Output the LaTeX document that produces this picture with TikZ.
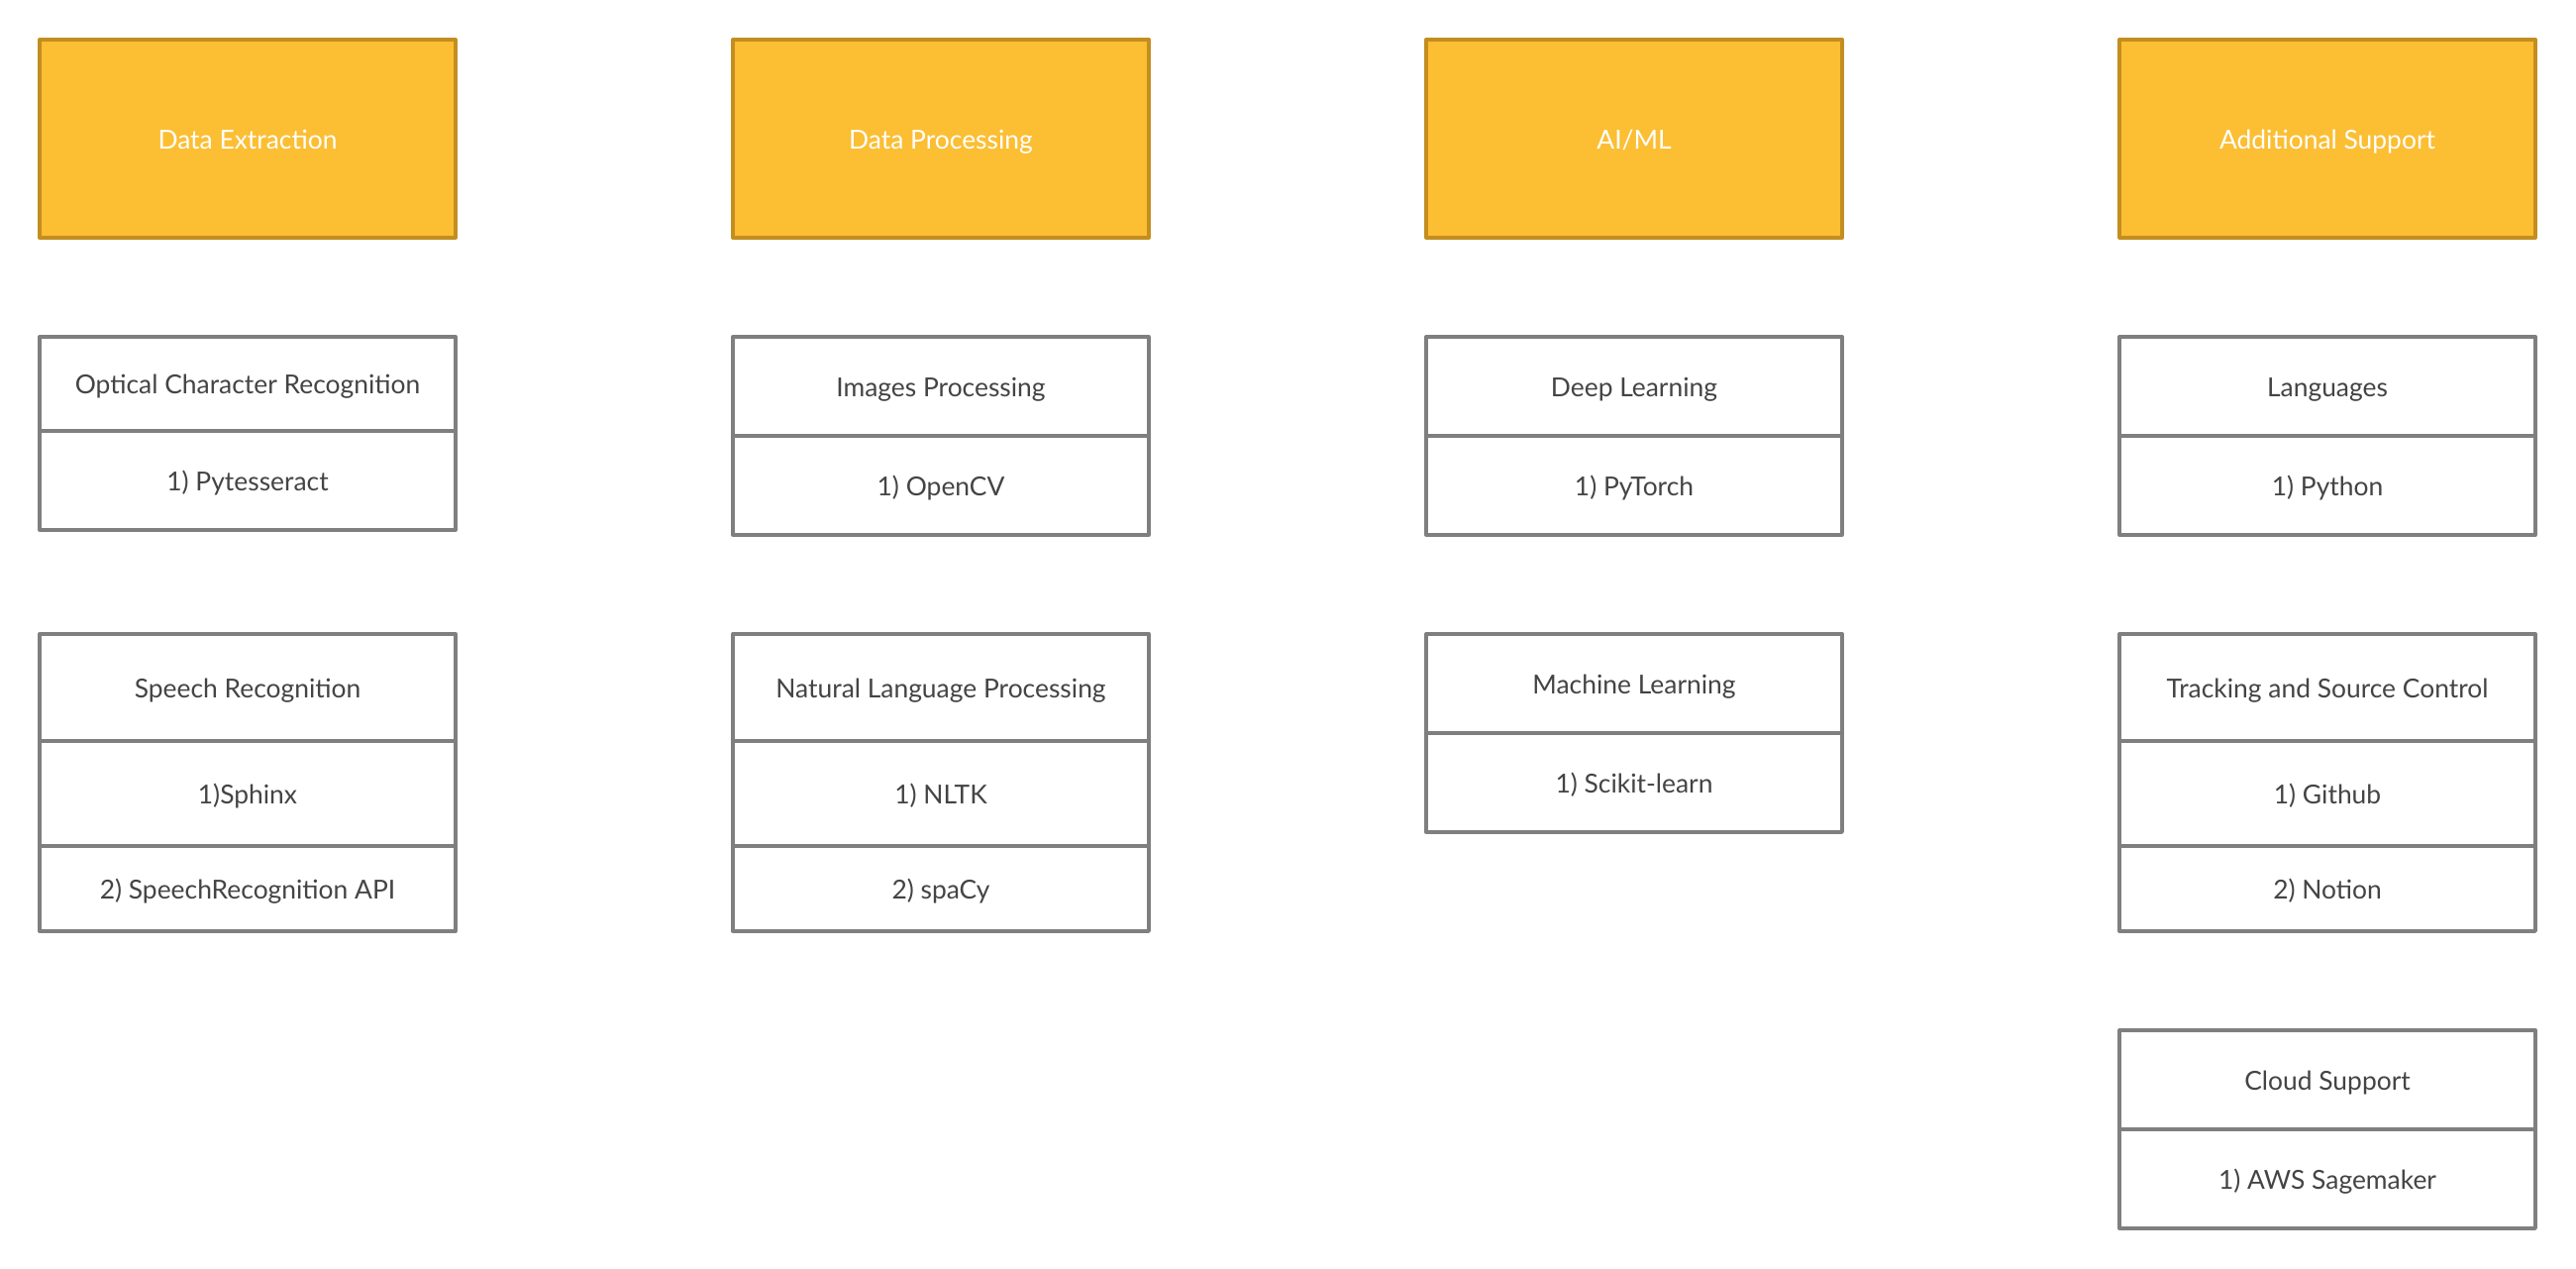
\documentclass[tikz,border=0pt]{standalone}
\usepackage{fontspec}
\setmainfont{Lato}
\definecolor{hdrfill}{HTML}{FCBE33}
\definecolor{hdrline}{HTML}{C38E1F}
\definecolor{cellline}{HTML}{7F7F7F}
\definecolor{txtgray}{HTML}{444444}
\begin{document}
\begin{tikzpicture}[x=0.5pt,y=-0.5pt,
  hdr/.style={draw=hdrline, fill=hdrfill, line width=1.65pt, line join=round,
    minimum width=210pt, minimum height=100pt, inner sep=0pt,
    text height=10pt, text depth=0pt,
    text=white, font=\fontsize{13.2}{16}\selectfont},
  cell/.style={draw=cellline, line width=1.65pt, line join=round,
    minimum width=210pt, minimum height=#1*0.5pt, inner sep=0pt,
    text height=10pt, text depth=0pt,
    text=txtgray, font=\fontsize{13.2}{16}\selectfont}]
\useasboundingbox[fill=white] (0,0) rectangle (2601,1280);

% Column 1
\node[hdr] (h1) at (250,140) {Data Extraction};
\node[cell=95]  (ocrA) at (250,387.5) {Optical Character Recognition};
\node[cell=100] (ocrB) at (250,485) {1) Pytesseract};
\node[cell=108] (spA) at (250,694) {Speech Recognition};
\node[cell=106] (spB) at (250,801) {1)Sphinx};
\node[cell=86]  (spC) at (250,897) {2) SpeechRecognition API};

% Column 2
\node[hdr] (h2) at (950,140) {Data Processing};
\node[cell=100] (imgA) at (950,390) {Images Processing};
\node[cell=100] (imgB) at (950,490) {1) OpenCV};
\node[cell=108] (nlpA) at (950,694) {Natural Language Processing};
\node[cell=106] (nlpB) at (950,801) {1) NLTK};
\node[cell=86]  (nlpC) at (950,897) {2) spaCy};

% Column 3
\node[hdr] (h3) at (1650,140) {AI/ML};
\node[cell=100] (dlA) at (1650,390) {Deep Learning};
\node[cell=100] (dlB) at (1650,490) {1) PyTorch};
\node[cell=100] (mlA) at (1650,690) {Machine Learning};
\node[cell=100] (mlB) at (1650,790) {1) Scikit-learn};

% Column 4
\node[hdr] (h4) at (2350,140) {Additional Support};
\node[cell=100] (lgA) at (2350,390) {Languages};
\node[cell=100] (lgB) at (2350,490) {1) Python};
\node[cell=108] (trA) at (2350,694) {Tracking and Source Control};
\node[cell=106] (trB) at (2350,801) {1) Github};
\node[cell=86]  (trC) at (2350,897) {2) Notion};
\node[cell=100] (clA) at (2350,1090) {Cloud Support};
\node[cell=100] (clB) at (2350,1190) {1) AWS Sagemaker};
\end{tikzpicture}
\end{document}
